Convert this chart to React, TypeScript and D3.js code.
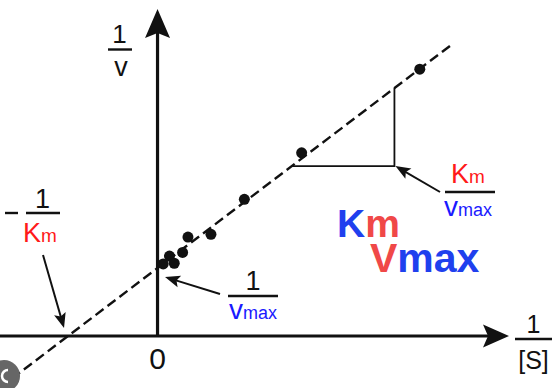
import React from "react";
import * as d3 from "d3";

// Lineweaver–Burk data (1/[S], 1/v)
const invS = [0.19, 0.4, 0.56, 0.84, 1.02, 1.79, 2.91, 4.83, 8.79];
const invV = [2.12, 2.35, 2.14, 2.46, 2.91, 2.99, 4.02, 5.39, 7.85];
const KM = 1 / 3;
const VMAX = 0.5;
const lineExtent = [-5.28, 9.85];
const triangleX = [4.5, 7.94];
const xDomain = [-5.28, 11.78];
const yDomain = [0, 9.62];

const W = 560;
const H = 388;
const FONT = "'Liberation Sans', Arial, Helvetica, sans-serif";
const RED = "#ff1a1a";
const BLUE = "#1a1aff";
const BIG_RED = "#f04848";
const BIG_BLUE = "#1f40ee";

function headPath(x1: number, y1: number, x2: number, y2: number, len: number, half: number, notch: number) {
  const dx = x2 - x1, dy = y2 - y1;
  const d = Math.hypot(dx, dy);
  const ux = dx / d, uy = dy / d;
  const px = -uy, py = ux;
  const bx = x2 - ux * len, by = y2 - uy * len;
  const nx = x2 - ux * (len - notch), ny = y2 - uy * (len - notch);
  return `M${x2},${y2}L${bx + px * half},${by + py * half}L${nx},${ny}L${bx - px * half},${by - py * half}Z`;
}

function Arrow({ x1, y1, x2, y2 }: { x1: number; y1: number; x2: number; y2: number }) {
  const dx = x2 - x1, dy = y2 - y1;
  const d = Math.hypot(dx, dy);
  const ex = x2 - (dx / d) * 8, ey = y2 - (dy / d) * 8;
  return (
    <g>
      <line x1={x1} y1={y1} x2={ex} y2={ey} stroke="#111" strokeWidth={2} />
      <path d={headPath(x1, y1, x2, y2, 15, 6, 3)} fill="#111" />
    </g>
  );
}

export default function App() {
  const x = d3.scaleLinear().domain(xDomain).range([0, 509]);
  const y = d3.scaleLinear().domain(yDomain).range([336, 9]);
  const f = (s: number) => s * (KM / VMAX) + 1 / VMAX;

  const lineGen = d3
    .line<number>()
    .x((d) => x(d))
    .y((d) => y(f(d)));

  const x0 = x(0);
  const y0 = y(0);
  const xInt = x(-1 / KM);
  const yInt = y(1 / VMAX);
  const tx0 = x(triangleX[0]);
  const tx1 = x(triangleX[1]);
  const ty = y(f(triangleX[0]));
  const tyTop = y(f(triangleX[1]));

  return (
    <svg
      width={W}
      height={H}
      style={{ position: "absolute", left: 0, top: 0, background: "#fff" }}
      fontFamily={FONT}
    >
      <rect width={W} height={H} fill="#fff" />

      {/* axes */}
      <line x1={x(xDomain[0])} y1={y0} x2={x(xDomain[1]) - 20} y2={y0} stroke="#111" strokeWidth={3.2} />
      <path d={headPath(x(xDomain[0]), y0, x(xDomain[1]), y0, 26, 11.5, 5)} fill="#111" />
      <line x1={x0} y1={y0} x2={x0} y2={y(yDomain[1]) + 20} stroke="#111" strokeWidth={3.2} />
      <path d={headPath(x0, y0, x0, y(yDomain[1]), 29, 12.5, 5)} fill="#111" />

      {/* fit line */}
      <path d={lineGen(lineExtent) || ""} fill="none" stroke="#111" strokeWidth={2.4} strokeDasharray="10 5" />

      {/* slope triangle */}
      <path d={`M${tx0},${ty}L${tx1},${ty}L${tx1},${tyTop}`} fill="none" stroke="#111" strokeWidth={1.8} />

      {/* points */}
      {invS.map((s, i) => (
        <circle key={i} cx={x(s)} cy={y(invV[i])} r={5.5} fill="#111" />
      ))}

      {/* annotation arrows */}
      <Arrow x1={43} y1={255} x2={xInt - 4} y2={y0 - 8} />
      <Arrow x1={220} y1={294} x2={x0 + 7.5} y2={yInt + 9} />
      <Arrow x1={440} y1={192} x2={tx1 + 1} y2={ty} />

      {/* y-axis label 1/v */}
      <text x={119.5} y={43} fontSize={26} textAnchor="middle" fill="#111">1</text>
      <line x1={108} y1={49.5} x2={132} y2={49.5} stroke="#111" strokeWidth={2.4} />
      <text x={121} y={76} fontSize={27} textAnchor="middle" fill="#111">v</text>

      {/* x-axis label 1/[S] */}
      <text x={533.5} y={333} fontSize={25} textAnchor="middle" fill="#111">1</text>
      <line x1={515} y1={339} x2={552} y2={339} stroke="#111" strokeWidth={2.4} />
      <text x={533.5} y={369} fontSize={25} textAnchor="middle" fill="#111">[S]</text>

      {/* zero */}
      <text x={x0} y={369} fontSize={30} textAnchor="middle" fill="#111">0</text>

      {/* -1/Km */}
      <line x1={5} y1={213} x2={18} y2={213} stroke="#111" strokeWidth={2.4} />
      <text x={42.5} y={208} fontSize={27} textAnchor="middle" fill="#111">1</text>
      <line x1={26} y1={213} x2={60} y2={213} stroke="#111" strokeWidth={2.4} />
      <text x={23} y={242} fontSize={27} fill={RED}>
        K<tspan fontSize={19}>m</tspan>
      </text>

      {/* 1/vmax */}
      <text x={253} y={290} fontSize={27} textAnchor="middle" fill="#111">1</text>
      <line x1={228} y1={296} x2={278} y2={296} stroke="#111" strokeWidth={2.4} />
      <text x={229} y={319} fontSize={28} fill={BLUE}>
        v<tspan fontSize={18}>max</tspan>
      </text>

      {/* Km/vmax */}
      <text x={451} y={183} fontSize={27} fill={RED}>
        K<tspan fontSize={19}>m</tspan>
      </text>
      <line x1={445} y1={192} x2={495} y2={192} stroke="#111" strokeWidth={2.4} />
      <text x={444} y={216} fontSize={28} fill={BLUE}>
        v<tspan fontSize={18}>max</tspan>
      </text>

      {/* big Km / Vmax */}
      <text x={337} y={237} fontSize={39} fontWeight="bold" fill={BIG_BLUE}>
        K<tspan fill={BIG_RED}>m</tspan>
      </text>
      <text x={370} y={272} fontSize={41} fontWeight="bold" fill={BIG_RED}>
        V<tspan fill={BIG_BLUE}>max</tspan>
      </text>

      {/* corner badge */}
      <circle cx={4} cy={376} r={16} fill="#666" />
      <path d="M8,370 A6,6 0 1 0 8,382" fill="none" stroke="#fff" strokeWidth={2.5} />
    </svg>
  );
}
